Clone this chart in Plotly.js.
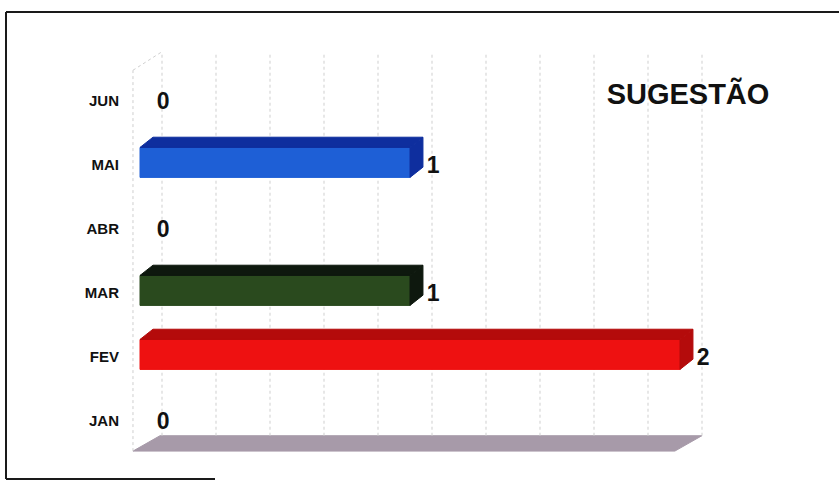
<!DOCTYPE html>
<html>
<head>
<meta charset="utf-8">
<script src="https://cdn.plot.ly/plotly-3.0.1.min.js"></script>
<style>html,body{margin:0;padding:0;background:#fff;}#chart{width:839px;height:481px;}</style>
</head>
<body>
<div id="chart"></div>
<script>
// ---- data ----
const months = ['JAN', 'FEV', 'MAR', 'ABR', 'MAI', 'JUN'];
const values = [0, 2, 1, 0, 1, 0];
const titleText = 'SUGESTÃO';
const gridStep = 0.2;
const axisMax = 2;

// ---- styles ----
const frontColors = ['#1e5fd6', '#ee1111', '#2a4a1e', '#1e5fd6', '#1e5fd6', '#1e5fd6'];
const sideColors  = ['#0e2e9e', '#b40b0b', '#0e180e', '#0e2e9e', '#0e2e9e', '#0e2e9e'];
const halfH = 0.234, depthX = 0.048, depthY = 0.16, barShift = 0.04;
const wallDX = 0.0815, floorFront = -0.47, floorBack = -0.23, gridTop = 5.77;

const traces = [];

// floor
traces.push({
  type: 'scatter', mode: 'lines', fill: 'toself', hoverinfo: 'skip', showlegend: false,
  x: [-0.026, 1.981, 2.081, 0.074, -0.026],
  y: [floorFront, floorFront, floorBack, floorBack, floorFront],
  fillcolor: '#a79aa9', line: {color: '#a79aa9', width: 1}
});

// gridlines (back wall)
const gx = [], gy = [];
for (let v = 0; v <= axisMax + 1e-9; v += gridStep) {
  gx.push(v + wallDX, v + wallDX, null);
  gy.push(floorBack, gridTop, null);
}
// left wall edges
gx.push(-0.026, -0.026, null, -0.026, wallDX);
gy.push(floorFront, 5.48, null, 5.48, gridTop);
traces.push({
  type: 'scatter', mode: 'lines', hoverinfo: 'skip', showlegend: false,
  x: gx, y: gy, line: {color: '#cfcfcf', width: 1, dash: 'dot'}
});

// 3D bars
months.forEach((m, i) => {
  const v = values[i];
  if (v <= 0) return;
  const yc = i + barShift;
  const y0 = yc - halfH, y1 = yc + halfH;
  // front face
  traces.push({
    type: 'scatter', mode: 'lines', fill: 'toself', hoverinfo: 'skip', showlegend: false,
    x: [0, v, v, 0, 0], y: [y0, y0, y1, y1, y0],
    fillcolor: frontColors[i], line: {color: frontColors[i], width: 1}
  });
  // top face
  traces.push({
    type: 'scatter', mode: 'lines', fill: 'toself', hoverinfo: 'skip', showlegend: false,
    x: [0, v, v + depthX, depthX, 0], y: [y1, y1, y1 + depthY, y1 + depthY, y1],
    fillcolor: sideColors[i], line: {color: sideColors[i], width: 1}
  });
  // side face
  traces.push({
    type: 'scatter', mode: 'lines', fill: 'toself', hoverinfo: 'skip', showlegend: false,
    x: [v, v + depthX, v + depthX, v, v], y: [y0, y0 + depthY, y1 + depthY, y1, y0],
    fillcolor: sideColors[i], line: {color: sideColors[i], width: 1}
  });
});

// value labels
traces.push({
  type: 'scatter', mode: 'text', hoverinfo: 'skip', showlegend: false,
  x: values.map(v => v + 0.062), y: months.map((m, i) => i - 0.03),
  text: values.map(v => String(v)), textposition: 'middle right',
  textfont: {family: 'Liberation Sans, Arial, sans-serif', size: 23, color: '#111', weight: 'bold'}
});

const L = 122, R = 39, T = 30, B = 20;
const W = 839 - L - R, H = 481 - T - B;
const px = p => (p - L) / W;
const py = p => (481 - B - p) / H;

const layout = {
  width: 839, height: 481,
  margin: {l: L, r: R, t: T, b: B},
  paper_bgcolor: '#ffffff', plot_bgcolor: 'rgba(0,0,0,0)',
  showlegend: false,
  title: {
    text: '<b>' + titleText + '</b>', xref: 'container', yref: 'container',
    x: 688 / 839, xanchor: 'center', y: 1 - 94 / 481, yanchor: 'middle',
    font: {family: 'Liberation Sans, Arial, sans-serif', size: 29, color: '#111'}
  },
  xaxis: {
    range: [(L - 140) / 270, (L - 140) / 270 + W / 270],
    showgrid: false, zeroline: false, showticklabels: false, showline: false, fixedrange: true
  },
  yaxis: {
    range: [-0.625, 6.109],
    tickmode: 'array', tickvals: months.map((m, i) => i),
    ticktext: months.map(m => '<b>' + m + '</b>'),
    tickfont: {family: 'Liberation Sans, Arial, sans-serif', size: 15, color: '#111'},
    ticklabelstandoff: 2,
    showgrid: false, zeroline: false, showline: false, ticks: '', fixedrange: true
  },
  shapes: [
    {type: 'line', xref: 'paper', yref: 'paper', x0: px(6), x1: px(839), y0: py(12), y1: py(12), line: {color: '#1a1a1a', width: 2}},
    {type: 'line', xref: 'paper', yref: 'paper', x0: px(6), x1: px(6), y0: py(12), y1: py(479), line: {color: '#1a1a1a', width: 2}},
    {type: 'line', xref: 'paper', yref: 'paper', x0: px(6), x1: px(215), y0: py(479), y1: py(479), line: {color: '#1a1a1a', width: 2}}
  ]
};

Plotly.newPlot('chart', traces, layout, {displayModeBar: false, staticPlot: true});
</script>
</body>
</html>
